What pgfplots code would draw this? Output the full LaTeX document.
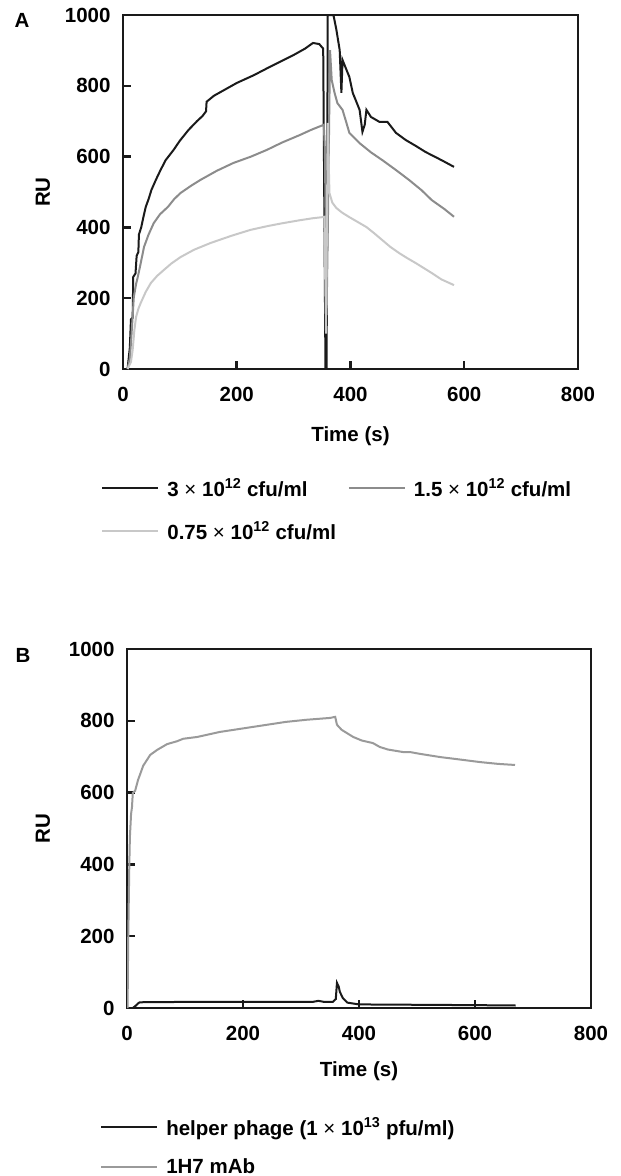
\documentclass[border=0pt]{standalone}
\usepackage{pgfplots}
\pgfplotsset{compat=1.18}
\usepackage{fontspec}
\setmainfont{Liberation Sans}
\definecolor{cblack}{HTML}{1A1A1A}
\definecolor{cmid}{HTML}{8C8C8C}
\definecolor{clight}{HTML}{C8C8C8}
\definecolor{cbgray}{HTML}{9A9A9A}
\begin{document}
\begin{tikzpicture}[font=\fontsize{20.5}{24}\selectfont\bfseries]
\path[use as bounding box] (0pt,0pt) rectangle (621pt,-1176pt);
\pgfplotsset{
  myaxis/.style={
    scale only axis,
    xmin=0, xmax=800, ymin=0, ymax=1000,
    xtick={0,200,...,800}, ytick={0,200,...,1000},
    tick pos=left, tick align=inside,
    major tick length=8pt,
    axis line style={line width=2.5pt, color=cblack},
    every tick/.style={line width=2.5pt, color=cblack},
    /pgf/number format/assume math mode=true,
    /pgf/number format/1000 sep={},
    yticklabel style={xshift=-9pt},
    xticklabel style={yshift=-15pt},
    xlabel={Time (s)},
    ylabel={RU},
    legend cell align=left,
    legend image code/.code={\draw[#1] (0pt,0pt) -- (56pt,0pt); \path (62pt,0pt);},
  },
}
% ---------------- Panel A ----------------
\begin{axis}[myaxis,
  at={(123pt,-369pt)}, anchor=south west,
  width=455pt, height=354pt,
  xlabel style={at={(axis description cs:0.5,0)}, anchor=center, yshift=-67pt},
  ylabel style={at={(axis description cs:-0.176,0.5)}, anchor=center},
  legend columns=2,
  legend style={at={(axis description cs:-0.048,-0.303)}, anchor=north west,
    draw=none, fill=none, inner sep=0pt, row sep=20pt,
    /tikz/every even column/.append style={column sep=10pt}},
]
\addplot[cblack, line width=2pt] coordinates {
(8,0) (12,60) (14,140) (17,145) (18,260) (22,270) (24,320) (27,330) (28,380) (32,400)
(36,430) (40,458) (45,480) (50,506) (58,535) (66,562) (75,590) (89,619) (100,645)
(115,675) (130,700) (140,715) (146,728) (147,755) (160,772) (200,808) (230,830)
(260,855) (300,887) (320,905) (334,921) (345,918) (352,905) (356,0) (358,0) (360,1000)
(370,1000) (375,960) (381,901) (384,780) (386,873) (398,825) (404,780) (416,732)
(421,670) (425,690) (428,732) (436,712) (451,698) (465,698) (480,667) (497,647)
(515,630) (532,613) (560,590) (582,571)};
\addlegendentry{3 {\mdseries ×} 10\textsuperscript{12} cfu/ml}
\addplot[cmid, line width=2pt] coordinates {
(8,0) (12,30) (14,73) (17,150) (19,203) (23,240) (26,260) (30,290) (37,345) (45,380)
(54,412) (65,437) (79,458) (90,480) (101,497) (120,518) (136,534) (165,560) (194,582)
(225,600) (253,619) (280,640) (311,661) (330,675) (350,688) (353,690) (355,620)
(358,152) (361,500) (364,901) (367,816) (372,780) (377,751) (386,732) (392,700)
(398,667) (416,638) (436,612) (456,590) (480,562) (503,534) (525,505) (543,477)
(565,452) (582,430)};
\addlegendentry{1.5 {\mdseries ×} 10\textsuperscript{12} cfu/ml}
\addplot[clight, line width=2pt] coordinates {
(8,0) (14,20) (17,54) (20,110) (23,147) (27,170) (31,186) (40,218) (49,243) (60,263)
(72,280) (85,298) (101,316) (125,337) (154,356) (190,376) (224,393) (255,404)
(281,412) (310,420) (334,426) (351,429) (354,430) (357,100) (360,695) (363,497)
(368,470) (375,455) (385,442) (398,429) (412,416) (428,401) (442,383) (456,364)
(470,345) (486,327) (500,313) (515,299) (530,284) (543,271) (560,253) (582,237)};
\addlegendentry{0.75 {\mdseries ×} 10\textsuperscript{12} cfu/ml}
\end{axis}
\node at (22pt,-20pt) {A};
% ---------------- Panel B ----------------
\begin{axis}[myaxis,
  at={(127pt,-1008pt)}, anchor=south west,
  width=464pt, height=359pt,
  xlabel style={at={(axis description cs:0.5,0)}, anchor=center, yshift=-63pt},
  ylabel style={at={(axis description cs:-0.181,0.5)}, anchor=center},
  legend columns=1,
  legend style={at={(axis description cs:-0.058,-0.30)}, anchor=north west,
    draw=none, fill=none, inner sep=0pt, row sep=18pt},
]
\addplot[cblack, line width=2pt] coordinates {
(10,0) (14,5) (20,14) (22,16) (100,17) (200,17) (320,17) (330,20) (340,17) (355,17)
(360,25) (362,70) (365,60) (367,45) (372,28) (380,15) (400,10) (500,9) (600,8) (670,7)};
\addlegendentry{helper phage (1 {\mdseries ×} 10\textsuperscript{13} pfu/ml)}
\addplot[cbgray, line width=2pt] coordinates {
(1,0) (2,181) (4,400) (5,476) (7,540) (8.6,560) (10,599) (14,605) (19,635) (28,675)
(40,705) (52,719) (69,735) (86,743) (97,750) (121,755) (160,769) (217,783) (274,797)
(310,803) (350,808) (359,811) (362,789) (370,775) (380,765) (390,755) (405,745)
(424,738) (436,727) (450,720) (476,713) (488,713) (505,708) (540,699) (575,692)
(609,685) (640,680) (669,677)};
\addlegendentry{1H7 mAb}
\end{axis}
\node at (23pt,-655pt) {B};
\end{tikzpicture}
\end{document}
